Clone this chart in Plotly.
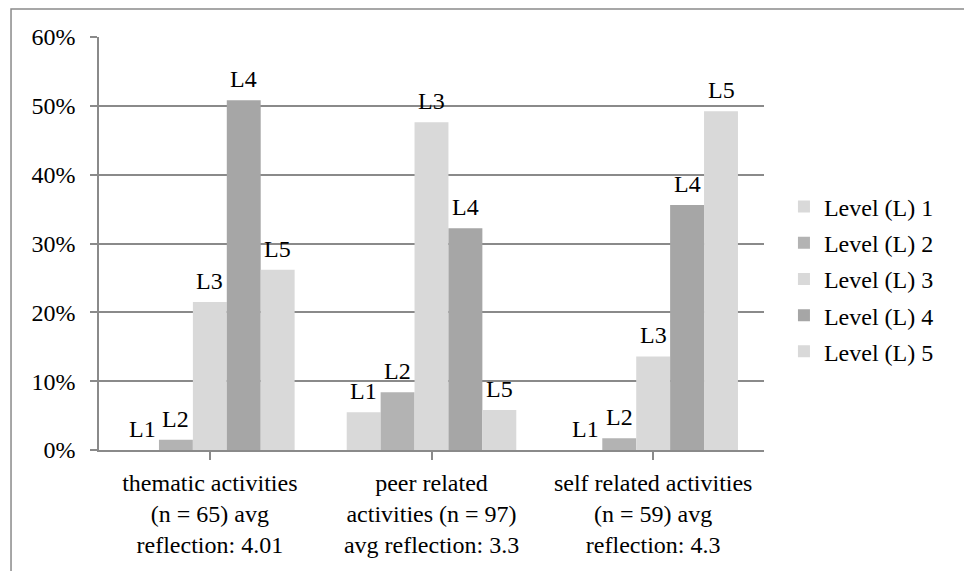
import plotly.graph_objects as go

# Share of reflections at each level, per activity type (percent)
categories = [
    "thematic activities<br>(n = 65) avg<br>reflection: 4.01",
    "peer related<br>activities (n = 97)<br>avg reflection: 3.3",
    "self related activities<br>(n = 59) avg<br>reflection: 4.3",
]
level_names = ["Level (L) 1", "Level (L) 2", "Level (L) 3", "Level (L) 4", "Level (L) 5"]
level_tags = ["L1", "L2", "L3", "L4", "L5"]
level_1 = [0.0, 5.5, 0.0]
level_2 = [1.5, 8.4, 1.7]
level_3 = [21.5, 47.6, 13.6]
level_4 = [50.8, 32.2, 35.6]
level_5 = [26.2, 5.8, 49.2]
y_ticks = [0, 10, 20, 30, 40, 50, 60]

series = [level_1, level_2, level_3, level_4, level_5]
colors = ["#d9d9d9", "#b3b3b3", "#d9d9d9", "#a6a6a6", "#d9d9d9"]
FONT = "'Liberation Serif', Tinos, 'DejaVu Serif', serif"
FS = 24
GRID = "#8a8a8a"
BARGAP = 0.235

fig = go.Figure()
for name, vals, col in zip(level_names, series, colors):
    fig.add_trace(go.Bar(
        x=list(range(len(categories))), y=vals, name=name,
        marker=dict(color=col, line=dict(width=0)),
        legendgroup=name, hoverinfo="skip",
    ))

# Level tags above every bar, placed at each bar's centre within its group
n = len(series)
bw = (1 - BARGAP) / n
for j, (tag, vals) in enumerate(zip(level_tags, series)):
    for i, v in enumerate(vals):
        fig.add_annotation(
            x=i + (j - (n - 1) / 2) * bw, y=v, xref="x", yref="y",
            text=tag, showarrow=False, yanchor="bottom", yshift=6,
            font=dict(family=FONT, size=FS, color="#000000"),
        )

# outer frame of the chart area
fig.add_shape(type="rect", xref="paper", yref="paper",
              x0=-0.1323, x1=1.304, y0=-0.3027, y1=1.0678,
              line=dict(color=GRID, width=1.5), fillcolor="rgba(0,0,0,0)", layer="below")

fig.update_layout(
    width=964, height=571,
    margin=dict(l=99, r=200, t=37, b=121, pad=0),
    paper_bgcolor="white", plot_bgcolor="white",
    barmode="group", bargap=BARGAP, bargroupgap=0,
    font=dict(family=FONT, size=FS, color="#000000"),
    showlegend=True,
    legend=dict(
        x=1.03, xanchor="left", y=0.643, yanchor="top",
        font=dict(family=FONT, size=FS, color="#000000"),
        tracegroupgap=2, itemwidth=30, bgcolor="rgba(0,0,0,0)",
    ),
    xaxis=dict(
        range=[-0.5, 2.5],
        tickmode="array", tickvals=list(range(len(categories))), ticktext=categories,
        tickson="boundaries", ticks="outside", ticklen=8, tickwidth=1.5, tickcolor=GRID,
        showline=True, linecolor=GRID, linewidth=1.5,
        showgrid=False, zeroline=False,
        tickfont=dict(family=FONT, size=FS, color="#000000"),
        ticklabelstandoff=2,
    ),
    yaxis=dict(
        range=[0, 60], tickmode="array", tickvals=y_ticks,
        ticktext=[f"{t}%" for t in y_ticks],
        ticks="outside", ticklen=7, tickwidth=1.5, tickcolor=GRID,
        showline=True, linecolor=GRID, linewidth=1.5,
        showgrid=True, gridcolor=GRID, gridwidth=1.5, zeroline=False,
        tickfont=dict(family=FONT, size=FS, color="#000000"),
        ticklabelstandoff=10,
    ),
)

fig.write_html("out.html")
